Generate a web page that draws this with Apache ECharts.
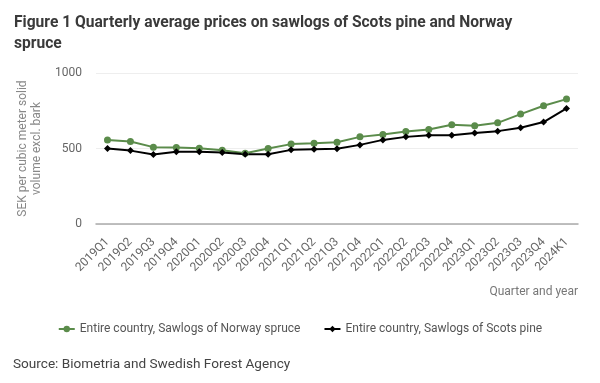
<!DOCTYPE html>
<html><head><meta charset="utf-8">
<script src="https://cdn.jsdelivr.net/npm/echarts@6/dist/echarts.min.js"></script>
<style>html,body{margin:0;padding:0;background:#fff}#c{width:600px;height:383px}</style>
</head><body><div id="c"></div>
<script>
const categories = ["2019Q1","2019Q2","2019Q3","2019Q4","2020Q1","2020Q2","2020Q3","2020Q4","2021Q1","2021Q2","2021Q3","2021Q4","2022Q1","2022Q2","2022Q3","2022Q4","2023Q1","2023Q2","2023Q3","2023Q4","2024K1"];
const spruce = [557,546,509,506,502,489,469,500,529,535,542,577,593,612,626,657,650,670,728,783,827];
const pine = [500,486,460,478,478,473,462,462,491,495,498,524,557,577,588,588,602,615,637,675,765];
const seriesNames = ["Entire country, Sawlogs of Norway spruce","Entire country, Sawlogs of Scots pine"];
const yTicks = [0,500,1000];

const font = "Roboto, 'Liberation Sans', sans-serif";
const chart = echarts.init(document.getElementById('c'), null, {renderer:'canvas'});
chart.setOption({
  animation:false,
  backgroundColor:'#fff',
  textStyle:{fontFamily:font},
  title:[
    {text:"Figure 1 Quarterly average prices on sawlogs of Scots pine and Norway\nspruce", left:9, top:8,
     textStyle:{fontSize:15.6, fontWeight:'bold', color:'#3a3a3a', fontFamily:font, lineHeight:21}},
    {text:"Quarter and year", right:17, top:281, textStyle:{fontSize:12, fontWeight:'normal', color:'#777', fontFamily:font}},
    {text:"Source: Biometria and Swedish Forest Agency", left:8, top:353, textStyle:{fontSize:13.6, fontWeight:'normal', color:'#444', fontFamily:font}}
  ],
  legend:{
    data:seriesNames, left:'center', top:318, itemWidth:16, itemHeight:8, itemGap:23,
    textStyle:{fontSize:12, color:'#555', fontFamily:font}
  },
  grid:{left:96, right:22, top:73, bottom:159, containLabel:false},
  xAxis:{
    type:'category', data:categories, boundaryGap:true,
    axisLine:{lineStyle:{color:'#aaa', width:1.5}},
    axisTick:{show:false},
    axisLabel:{rotate:45, fontSize:12, color:'#666', margin:16, interval:0}
  },
  yAxis:{
    type:'value', min:yTicks[0], max:yTicks[2], interval:500,
    name:"SEK per cubic meter solid\nvolume excl. bark", nameLocation:'middle', nameGap:32,
    nameTextStyle:{fontSize:12, color:'#888', lineHeight:14},
    axisLine:{show:false}, axisTick:{show:false},
    axisLabel:{fontSize:12, color:'#666', margin:14, formatter:function(v){return String(v);}},
    splitLine:{lineStyle:{color:'#eee', width:1}}
  },
  series:[
    {name:seriesNames[0], type:'line', data:spruce, symbol:'circle', symbolSize:7,
     lineStyle:{color:'#5b8c4b', width:2}, itemStyle:{color:'#5b8c4b'}},
    {name:seriesNames[1], type:'line', data:pine, symbol:'diamond', symbolSize:7,
     lineStyle:{color:'#000', width:2}, itemStyle:{color:'#000'}}
  ]
});
</script></body></html>
